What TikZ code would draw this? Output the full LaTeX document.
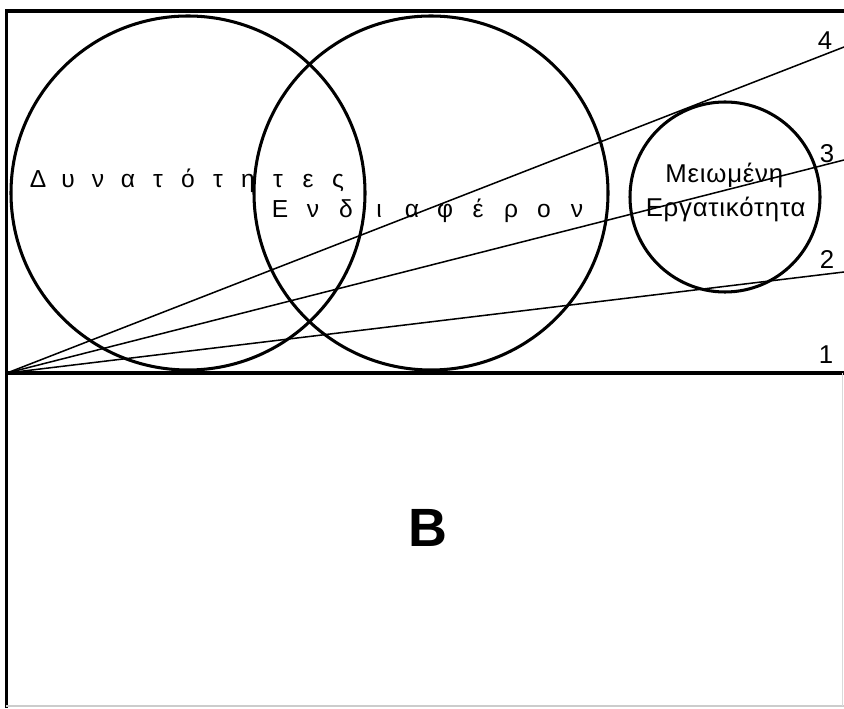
\documentclass[tikz,border=0pt]{standalone}
\usepackage{fontspec}
\setmainfont{Liberation Sans}
\newfontfamily\widefont[LetterSpace=3]{Liberation Sans}
\usetikzlibrary{calc}
\tikzset{frame/.style={line width=3pt}}
\tikzset{ring/.style={line width=2.6pt}}
\tikzset{ray/.style={line width=1.3pt}}
\tikzset{letter/.style={anchor=base,inner sep=0pt,font=\fontsize{21}{24}\selectfont}}
\tikzset{num/.style={inner sep=0pt,font=\fontsize{22}{24}\selectfont}}

\begin{document}
\begin{tikzpicture}
  \useasboundingbox (0,0) rectangle (25.32,21.24);
  % Frame
  \draw[frame] (0.19,0) -- (0.19,20.91) -- (25.32,20.91);
  \draw[frame] (0.19,10.05) -- (25.32,10.05);
  \draw[gray!40,line width=1pt] (0.19,0.06) -- (25.32,0.06);
  \draw[gray!30,line width=0.6pt] (25.28,0.06) -- (25.28,10.05);
  % Circles
  \draw[ring] (5.64,15.45) circle (5.31);
  \draw[ring] (12.93,15.45) circle (5.31);
  \draw[ring] (21.75,15.33) circle (2.85);
  % Lines
  \coordinate (O) at (0.21,10.05);
  \coordinate (r2) at (25.32,13.08);
  \coordinate (r3) at (25.32,16.44);
  \coordinate (r4) at (25.32,19.83);
  \foreach \r in {2,3,4}
    \draw[ray] (O) -- (r\r);
  \node[num] (n1) at (24.78,10.59) {1};
  \node[num] (n2) at (24.81,13.44) {2};
  \node[num] (n3) at (24.81,16.62) {3};
  \node[num] (n4) at (24.75,20.01) {4};
  % Labels
  \foreach \ch [count=\i from 0] in {Δ,υ,ν,α,τ,ό,τ,η,τ,ε,ς}
    \node[letter] (dyn-\i) at (1.14+0.9*\i,15.615) {\ch};
  \foreach \ch [count=\i from 0] in {Ε,ν,δ,ι,α,φ,έ,ρ,ο,ν}
    \node[letter] (end-\i) at (8.4+0.99*\i,14.70) {\ch};
  \node[anchor=base,inner sep=0pt,font=\widefont\fontsize{22}{24}\selectfont] (mei) at (21.73,15.75) {Μειωμένη};
  \node[anchor=base,inner sep=0pt,font=\widefont\fontsize{22}{24}\selectfont] (erg) at (21.77,14.73) {Εργατικότητα};
  \node[font=\fontsize{46}{50}\selectfont\bfseries] (b) at (12.84,5.4) {B};
\end{tikzpicture}
\end{document}
